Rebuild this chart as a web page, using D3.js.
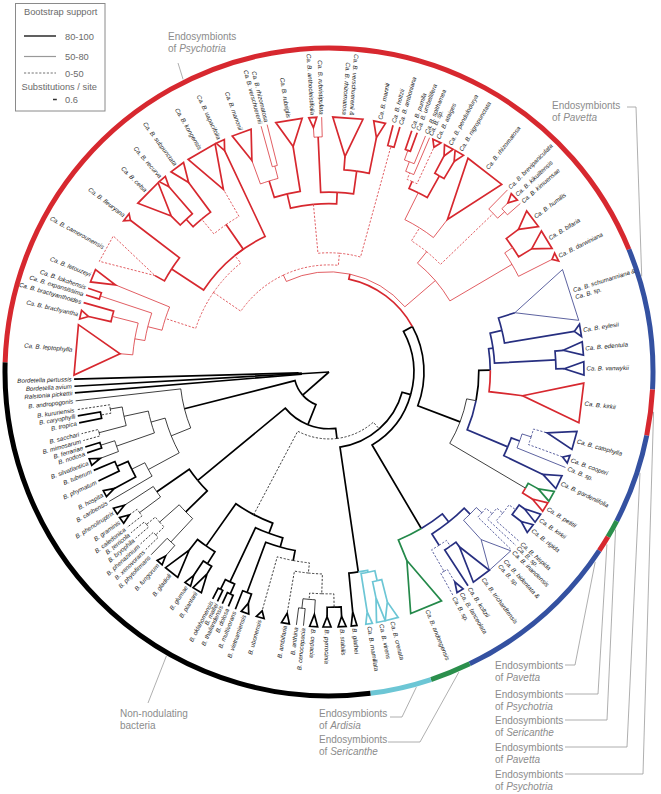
<!DOCTYPE html>
<html><head><meta charset="utf-8">
<script src="https://cdn.jsdelivr.net/npm/d3@7"></script>
<style>body{margin:0;background:#fff}</style>
</head><body>
<svg id="c" width="661" height="794"></svg>
<script>
// ================= DATA =================
const leafNames = [
 "Ca. B. leptophylla","Ca. B. brachyantha","Ca. B. brachyanthoides","Ca. B. expansissima","Ca. B. lokohensis",
 "Ca. B. letouzeyi","Ca. B. camerounensis","Ca. B. fleuryana","Ca. B. celsa","Ca. B. recurva",
 "Ca. B. subpunctata","Ca. B. kongensis","Ca. B. uapacifolia","Ca. B. manonii","Ca. B. verschuerenii",
 "Ca. B. rhizomatosa","Ca. B. rubriglis","Ca. B. anthocleistifolia","Ca. B. rubristipulata","Ca. B. verschuerenii &\nCa. B. rhizomatosa",
 "Ca. B. mannii","Ca. B. holtzii","Ca. B. amboniana","Ca. B. pumila","Ca. B. umbellifera",
 "Ca. B. spithamea","Ca. B. sp.","Ca. B. ataiges","Ca. B. pendulodurya","Ca. B. nigropunctata",
 "Ca. B. rhizomatosa","Ca. B. brevipaniculata","Ca. B. kikuiltensis","Ca. B. kimuensae","Ca. B. humilis",
 "Ca. B. bifaria","Ca. B. darwiniana","Ca. B. schumanniana &\nCa. B. sp.","Ca. B. eylesii","Ca. B. edentula",
 "Ca. B. vanwykii","Ca. B. kirkii","Ca. B. catophylla","Ca. B. cooperi","Ca. B. sp.",
 "Ca. B. gardeniifolia","","Ca. B. petitii","Ca. B. kirkii","Ca. B. rigida",
 "Ca. B. hispida","Ca. B. sp.","Ca. B. inandensis","Ca. B. bidentata &\nCa. B. sp.","Ca. B. trichardtensis",
 "Ca. B. koltzii","Ca. B. lanceolata","Ca. B. sp.","Ca. B. andongensis","Ca. B. crenata",
 "Ca. B. virens","Ca. B. mamillata","B. glathei","B. stabilis","B. pyrrocinia",
 "B. cepacia","B. cenocepacia","B. anthina","B. ambifaria","B. ubonensis",
 "B. vietnamiensis","B. multivorans","B. dolosa","B. thailandensis","B. mallei",
 "B. oklahomensis","B. plantarii","B. glumae","B. gladioli","B. fungorum",
 "B. phytofirmans","B. xenovorans","B. phenazinium","B. bryophila","B. terricola",
 "B. caledonica","B. graminis","B. phenoliruptrix","B. caribensis","B. hospita",
 "B. phymatum","B. tuberum","B. silvatlantica","B. nodosa","B. ferrariae",
 "B. mimosarum","B. sacchari","B. tropica","B. caryophylli","B. kururiensis",
 "B. andropogonis","Ralstonia pickettii","Bordetella avium","Bordetella pertussis"
];
const leafGroups = ("PPPPPPPPPPPPPPPPPPPPPPPPPPPPPPPPPPPPP" + "VVVV" + "P" + "VVVV" + "S" + "P" +
  "VVVVVVVVVV" + "S" + "AAA" + "NNNNNNNNNNNNNNNNNNNNNNNNNNNNNNNNNNNNNNN" + "OOO").split("");
const leafGaps = [11.6,8,2.8,1.8,1.6,3,6.8,8.4,7.3,4.5, 4.3,6.5,4.8,5.2,4.6,1.4,5,5.4,2,5.9,
  7.2,3.1,1.6,2.8,1.3,2,1,1.8,3,2.7, 7.1,6.6,2.2,2,4.4,5.7,4.5,9.1,8.3,4.1,
  4.5,7.8,8.6,4.4,2,3.6,3.6,2.8,3,2.9, 3.8,1.2,1.4,3.5,5.5,3.7,2.1,1.9,6.6,8.2,
  2.5,2.7,3.4,2.7,3.4,3,2.3,1.6,2.5,5.8, 3.6,2.3,1.7,1.5,1.2,1.2,4,2.5,4.5,3.5,
  2.6,1.7,1.7,1.7,1.6,1.5,2,2.5,2.6,2, 3.2,2.6,2,2.2,1.4,1.5,1.6,2.5,1.6,1.4,
  2,1.8,1.5,1.6];
const triWidth = [11.4,2,0,0,0,3,6.5,2,6.5,1.8, 3.5,7,2,4.5,0,0,6,1.8,0,6.8,
  2.7,0,0,0,0,0,0,2,2.2,2.2, 9.6,0,2,0,4.4,4.6,2,12,2.8,3,
  3,9,4.2,1.8,0,3.2,2.5,2.2,2.2,2.2, 0,0,0,6.5,4.5,0,1.6,0,7.5,3,
  2,1.5,1.3,1.8,1.8,1.8,0,0,1.8,1.8, 1.8,0,0,0,0,0,2.2,1.5,3.5,1.5,
  0,0,0,0,0,0,1.6,1.6,0,1.5, 0,0,1.6,0,0,0,0,0,0,0, 0,0,0,0];
const weakTriangles = [7, 38, 54];
const weakTriSupport = [30, 62, 60];

const nwPsyA = "(((1:2.0,(2:3.6,3)97:4.2)62:1.6,(4,5)99:8.5)58:2.3,6:9.2)66";
const nwPsyB = "((7:1.7,8:9.7)95:6.0,(((9:2.0,10:5.6)96:1.6,11:5.8)92:3.0,12:4.9)35:4.7,13:14.9)98";
const nwPsyC = "((((14:3.9,(15,16)65:2.0)70:2.7,17:7.1)91:2.3,((18:1.5,19)60:8.7,(20:2.1,21:5.7)93:3.6)90:1.8)94:7.7,(22,23)96:18.0)42";
const nwPsyD = "((((((((24,25)97:1.6,26)64:1.6,27)60:1.1,28:6.3)45:1.2,(29:3.1,30:3.1)92:3.9)93:4.7,31:3.6)72:2.4,(32,(33:1.3,34)61:1.5)55:11.5)38:2.3,((35:2.4,36:2.4)99:1.5,37:5.9)66:11.3)68";
const nwPavA = "(((((38:2.7,39:11.1)95:1.9,(40:1.3,41:1.3)98:9.6)92:0.7,42:5.3)97:1.8,(((43:2.2,44:5.7)41:1.5,45)70:1.4,46:6.8)93:6.9)94:1.5,(47:1.8,48:1.8)90:13.8)63";
const nwPavB = "(((((((49:1.0,50:1.8)94:1.3,51)35:1.2,52)38:1.3,53)44:1.2,54:4.1)57:1.3,((55:0.9,56)95:1.1,(57:2.3,58)40:3.9)42:2.1)91:1.6,59:3.5)96";
const nwArd = "(((60:3.6,61:2.6)90:1.6,62:6.1)92:0.3,63:6.1)94";
const nwCep = "(((((((64:1.5,65:1.5)98:2.1,(66:2.3,(67,68)62:1.5)68:1.0)42:3.1,69:6.7)30:1.6,70:8.8)36:1.6,(71:1.5,72)96:8.4)93:1.5,((73,74)94:1.7,(75,76)98:1.7)99:9.4)95:1.7,((77:1.4,78:2.7)95:2.2,79:2.1)97:8.1)97";
const nwFun = "(((80:2.2,81)70:5.0,((82,83)35:1.8,(84,85)44:1.8)40:4.1)64:4.7,((86,87:1.5)38:4.1,88:5.4)66:6.2)93";
const nwAnd = "(((89,(90:3.8,(91,92)95:1.9)92:2.3)66:5.5,((93:3.1,(94,95)97:2.3)63:6.3,((96,97)33:4.4,((98,99)95:1.6,100)41:1.9)55:3.9)58:2.3)60:3.3,101)72";
const nwPsy = `(((${nwPsyA}:5.0,${nwPsyB}:1.5)40:5.2,${nwPsyC}:1.9)30:1.1,${nwPsyD}:6.3)60`;
const newick = `(((((((${nwPsy}:0.8,${nwPavA}:7.1)96:1.6,${nwPavB}:15.2)97:1.4,${nwArd}:19.8)98:1.4,${nwCep}:14.8)33:1.6,${nwFun}:17.8)99:3.4,${nwAnd}:17.9)96:5.5,(102,(103,104)100:0.5)100:4.4)100;`;

const annHost = ["Psychotria","Pavetta","Pavetta","Psychotria","Sericanthe","Pavetta","Psychotria",null,"Ardisia","Sericanthe"];
const annRingAngle = [333.5, 73, 125.5, 121.8, 118.8, 108, 97, 209.8, 164.5, 156.6];
const legendLabels = ["80-100","50-80","0-50"];
const legendSupport = [95, 65, 30];
const scaleBarValue = 0.6;

// ================= LAYOUT / STYLE =================
const treeColor = {P:"#d7282f", V:"#272f80", S:"#24894a", A:"#6cc6d5", N:"#000", O:"#000"};
const ringColor = {P:"#d7282f", V:"#3451a1", S:"#2b8f4c", A:"#6cc6d5", N:"#000", O:"#000"};
const CX = 329, CY = 372, R_TIP = 255, R_RING = 324, START = 269.2;
const FONT = "'Liberation Sans', Arial, sans-serif";
const annPos = [
  {x:168, y:39.5, path:[[178,63]]},
  {x:552, y:109, path:[[627,107],[636,107]]},
  {x:495, y:668.5, path:[[565,665],[575,665]]},
  {x:495, y:697.5, path:[[565,694],[598,694]]},
  {x:495, y:723.5, path:[[565,720],[607,720]]},
  {x:495, y:750.5, path:[[565,747],[627,747]]},
  {x:495, y:777.5, path:[[565,774],[643,774]]},
  {x:120, y:716.5, path:[[148,703]]},
  {x:319, y:716.5, path:[[390,717],[402,717]]},
  {x:319, y:743, path:[[388,742],[420,742]]}
];

// ================= PARSE =================
function parseNewick(s) {
  let i = 0;
  function node() {
    const n = {};
    if (s[i] === "(") {
      i++; n.children = [];
      while (i < s.length) {
        n.children.push(node());
        if (s[i] === ",") { i++; continue; }
        if (s[i] === ")") { i++; }
        break;
      }
    }
    let lab = "";
    while (i < s.length && !":,);".includes(s[i])) lab += s[i++];
    if (n.children) n.support = lab ? +lab : 100; else n.leaf = +lab;
    n.length = 0;
    if (s[i] === ":") { i++; let num = ""; while (i < s.length && !",);".includes(s[i])) num += s[i++]; n.length = +num; }
    return n;
  }
  return node();
}

const svg = d3.select("#c");
const rScale = d3.scaleLinear().domain([0, 40]).range([0, R_TIP]);
const aScale = d3.scaleLinear().domain([0, 360]).range([START, START + 360]);
const rad = a => a * Math.PI / 180;
const pt = (a, r) => [CX + r * Math.sin(rad(a)), CY - r * Math.cos(rad(a))];
function styleOf(sup) {
  if (sup >= 80) return {w: 1.7, dash: null};
  if (sup >= 50) return {w: 0.75, dash: null};
  return {w: 0.75, dash: "2.2,1.6"};
}

const root = d3.hierarchy(parseNewick(newick));
root.eachBefore(d => d.du = d.parent ? d.parent.du + d.data.length : 0);
d3.cluster().size([360, 1]).separation((a, b) => leafGaps[a.data.leaf - 1] || 2)(root);
root.each(d => d.ang = aScale(d.x));
root.eachAfter(d => {
  if (!d.children) d.grp = new Set([leafGroups[d.data.leaf - 1]]);
  else { d.grp = new Set(); d.children.forEach(c => c.grp.forEach(g => d.grp.add(g))); }
  d.col = d.grp.size === 1 ? treeColor[[...d.grp][0]] : "#000";
});
const leaves = root.leaves();

// ================= RING =================
const gRing = svg.append("g");
const n = leaves.length;
const bnd = k => (k === n - 1) ? (leaves[n - 1].ang + leaves[0].ang + 360) / 2 : (leaves[k].ang + leaves[k + 1].ang) / 2;
let runStart = 0;
for (let k = 0; k < n; k++) {
  const g = ringColor[leafGroups[leaves[k].data.leaf - 1]];
  const gn = k < n - 1 ? ringColor[leafGroups[leaves[k + 1].data.leaf - 1]] : null;
  if (g !== gn) {
    const a0 = runStart === 0 ? bnd(n - 1) - 360 : bnd(runStart - 1);
    const a1 = bnd(k);
    const p = d3.path();
    const s0 = pt(a0, R_RING);
    p.moveTo(s0[0], s0[1]);
    p.arc(CX, CY, R_RING, rad(a0 - 90), rad(a1 - 90), false);
    gRing.append("path").attr("d", p.toString()).attr("fill", "none").attr("stroke", g).attr("stroke-width", 5);
    runStart = k + 1;
  }
}

// ================= BRANCHES =================
const gTree = svg.append("g").attr("stroke-linejoin", "miter");
root.each(nd => {
  if (!nd.children) return;
  const rN = rScale(nd.du);
  const st = styleOf(nd.data.support);
  nd.children.forEach(c => {
    const isTri = !c.children && triWidth[c.data.leaf - 1] > 0;
    const rEnd = (c.children || isTri) ? rScale(c.du) : R_TIP;
    const p = d3.path();
    const s0 = pt(nd.ang, rN);
    p.moveTo(s0[0], s0[1]);
    if (rN > 0 && Math.abs(c.ang - nd.ang) > 1e-6)
      p.arc(CX, CY, rN, rad(nd.ang - 90), rad(c.ang - 90), c.ang < nd.ang);
    const e = pt(c.ang, rEnd);
    p.lineTo(e[0], e[1]);
    gTree.append("path").attr("d", p.toString()).attr("fill", "none")
      .attr("stroke", c.col).attr("stroke-width", st.w).attr("stroke-dasharray", st.dash);
  });
});

// ================= COLLAPSED CLADES =================
leaves.forEach(l => {
  const i = l.data.leaf - 1, w = triWidth[i];
  if (!w) return;
  const wi = weakTriangles.indexOf(i + 1);
  const st = styleOf(wi >= 0 ? weakTriSupport[wi] : 95);
  const a = pt(l.ang, rScale(l.du)), b = pt(l.ang - w / 2, R_TIP), c = pt(l.ang + w / 2, R_TIP);
  gTree.append("path").attr("d", `M${a}L${b}L${c}Z`).attr("fill", "#fff")
    .attr("stroke", l.col).attr("stroke-width", st.w).attr("stroke-dasharray", st.dash);
});

// ================= TIP LABELS =================
const gLab = svg.append("g").attr("font-family", FONT).attr("font-size", 6.2)
  .attr("font-style", "italic").attr("fill", "#1a1a1a");
leaves.forEach(l => {
  const name = leafNames[l.data.leaf - 1];
  if (!name) return;
  const an = ((l.ang % 360) + 360) % 360;
  const flip = !(an >= 8 && an < 184);
  const t = gLab.append("text")
    .attr("transform", `translate(${CX},${CY}) rotate(${l.ang - 90}) translate(${R_TIP + 2.5},0)` + (flip ? " rotate(180)" : ""))
    .attr("text-anchor", flip ? "end" : "start");
  const lines = name.split("\n");
  lines.forEach((ln, j) => {
    t.append("tspan").attr("x", 0).attr("dy", j === 0 ? (0.35 - (lines.length - 1) * 0.6) + "em" : "1.2em").text(ln);
  });
});

// ================= ANNOTATIONS =================
const gAnn = svg.append("g").attr("font-family", FONT).attr("font-size", 10).attr("fill", "#8c8c8c");
annPos.forEach((ap, i) => {
  const end = pt(annRingAngle[i], R_RING + 3);
  const pts = ap.path.concat([end]);
  gAnn.append("path").attr("d", d3.line()(pts)).attr("fill", "none").attr("stroke", "#9a9a9a").attr("stroke-width", 0.8);
  const t = gAnn.append("text").attr("x", ap.x).attr("y", ap.y);
  if (annHost[i]) {
    t.append("tspan").attr("x", ap.x).text("Endosymbionts");
    t.append("tspan").attr("x", ap.x).attr("dy", 12).text("of ");
    t.append("tspan").attr("font-style", "italic").text(annHost[i]);
  } else {
    t.append("tspan").attr("x", ap.x).text("Non-nodulating");
    t.append("tspan").attr("x", ap.x).attr("dy", 12).text("bacteria");
  }
});

// ================= LEGEND =================
const gL = svg.append("g").attr("font-family", FONT).attr("fill", "#6b6b6b");
gL.append("rect").attr("x", 15.5).attr("y", 3.5).attr("width", 89.5).attr("height", 107.5)
  .attr("fill", "#fff").attr("stroke", "#8a8a8a").attr("stroke-width", 1);
gL.append("text").attr("x", 24).attr("y", 14.5).attr("font-size", 9.3).text("Bootstrap support");
const legY = [36, 56.5, 73];
legendLabels.forEach((lab, i) => {
  const st = styleOf(legendSupport[i]);
  gL.append("line").attr("x1", 24).attr("x2", 56).attr("y1", legY[i]).attr("y2", legY[i])
    .attr("stroke", i === 1 ? "#999" : "#444").attr("stroke-width", i === 1 ? 1.2 : st.w).attr("stroke-dasharray", st.dash);
  gL.append("text").attr("x", 65).attr("y", legY[i] + 3.6).attr("font-size", 9.3).text(lab);
});
gL.append("text").attr("x", 21.5).attr("y", 90).attr("font-size", 9.3).text("Substitutions / site");
const barLen = rScale(scaleBarValue) - rScale(0);
gL.append("line").attr("x1", 53).attr("x2", 53 + barLen).attr("y1", 99.5).attr("y2", 99.5)
  .attr("stroke", "#333").attr("stroke-width", 1.5);
gL.append("text").attr("x", 65).attr("y", 103).attr("font-size", 9.3).text(scaleBarValue);
</script>
</body></html>
